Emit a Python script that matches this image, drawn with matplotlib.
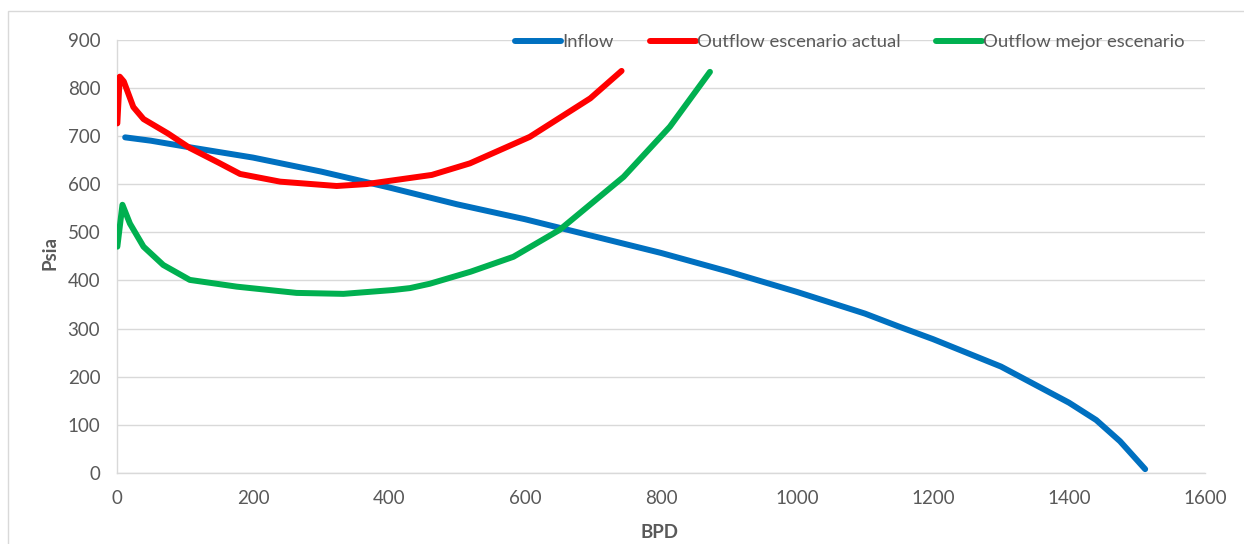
import matplotlib
matplotlib.use("Agg")
import matplotlib.pyplot as plt
from matplotlib.patches import Rectangle

# Inflow (IPR) curve: rate in BPD, pressure in psia
inflow_bpd = [12, 50, 100, 200, 300, 400, 500, 600, 700, 800, 900, 950,
              1000, 1100, 1150, 1200, 1300, 1400, 1440, 1475, 1512]
inflow_psia = [697, 690, 678, 655, 626, 593, 558, 527, 492, 457, 418, 397,
               376, 331, 304, 278, 221, 146, 110, 66, 8]

# Outflow, current scenario
actual_bpd = [0.5, 4, 10, 24, 39, 75, 107, 150, 181, 240, 323, 367,
              463, 519, 607, 696, 742]
actual_psia = [726, 823, 813, 760, 735, 705, 675, 644, 621, 605, 596, 600,
               619, 643, 698, 778, 835]

# Outflow, best scenario
best_bpd = [0.5, 8, 19, 39, 68, 107, 176, 264, 333, 406, 431, 460,
            520, 583, 651, 745, 813, 872]
best_psia = [470, 557, 518, 470, 432, 401, 387, 374, 372, 380, 384, 393,
             418, 449, 505, 615, 719, 833]

labels = ["Inflow", "Outflow escenario actual", "Outflow mejor escenario"]
colors = ["#0070C0", "#FF0000", "#00B050"]

x_ticks = list(range(0, 1601, 200))
y_ticks = list(range(0, 901, 100))

plt.rcParams["font.family"] = ["Lato", "DejaVu Sans"]
text_gray = "#595959"
grid_gray = "#D9D9D9"

fig = plt.figure(figsize=(12.44, 5.44), dpi=100)
fig.patch.set_facecolor("white")

# outer chart-area border
fig.patches.append(Rectangle((8 / 1244, -0.2), 2.0, (544 - 11) / 544 + 0.2,
                             transform=fig.transFigure, fill=False,
                             edgecolor=grid_gray, linewidth=1.0))

ax = fig.add_axes([117 / 1244, 1 - 473 / 544, 1088 / 1244, 433.4 / 544])

series = [(inflow_bpd, inflow_psia), (actual_bpd, actual_psia), (best_bpd, best_psia)]
for (xs, ys), lab, col in zip(series, labels, colors):
    ax.plot(xs, ys, color=col, linewidth=4.3, label=lab,
            solid_capstyle="round", solid_joinstyle="round", zorder=3)

ax.set_xlim(0, 1600)
ax.set_ylim(0, 900)
ax.set_xticks(x_ticks)
ax.set_yticks(y_ticks)
ax.tick_params(axis="both", length=0, labelsize=13.5, labelcolor=text_gray)
ax.tick_params(axis="y", pad=12)
ax.tick_params(axis="x", pad=12)

ax.grid(axis="y", color=grid_gray, linewidth=1.0, zorder=0)
ax.set_axisbelow(True)
for side in ["top", "right"]:
    ax.spines[side].set_visible(False)
for side in ["left", "bottom"]:
    ax.spines[side].set_color(grid_gray)
    ax.spines[side].set_linewidth(1.0)

ax.set_xlabel("BPD", fontsize=13.5, fontweight="bold", color=text_gray)
ax.set_ylabel("Psia", fontsize=13.5, fontweight="bold", color=text_gray)
ax.xaxis.set_label_coords(0.499, -0.118)
ax.yaxis.set_label_coords(-0.054, 0.508)

leg = ax.legend(loc="center right", bbox_to_anchor=(0.9816, 0.9945), ncol=3,
                frameon=False, fontsize=13.3, handlelength=2.5,
                handletextpad=0.05, columnspacing=1.95, borderpad=0,
                borderaxespad=0)
for t in leg.get_texts():
    t.set_color(text_gray)
for h in leg.legend_handles:
    h.set_linewidth(4.3)
    h.set_solid_capstyle("round")

fig.savefig("out.png", dpi=100, facecolor="white")
